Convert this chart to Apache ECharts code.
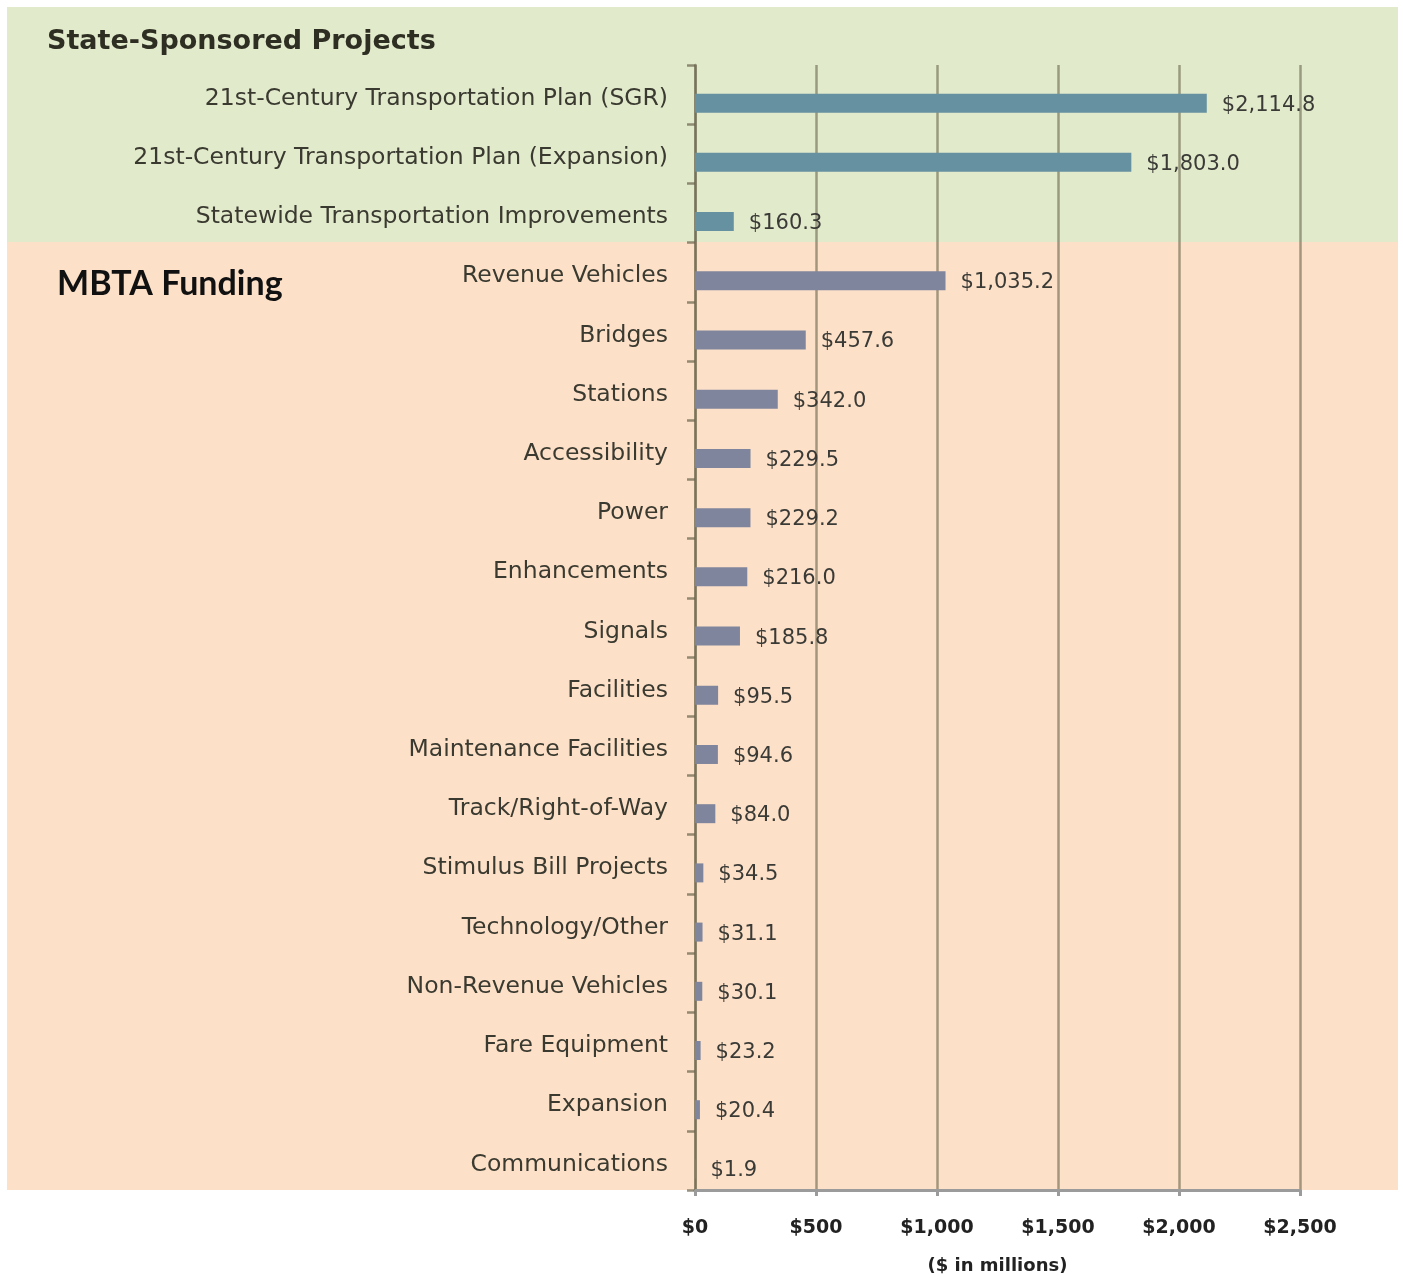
<!DOCTYPE html>
<html>
<head>
<meta charset="utf-8">
<script src="https://cdn.jsdelivr.net/npm/echarts@6/dist/echarts.min.js"></script>
<style>
html,body{margin:0;padding:0;background:#fff;}
#chart{width:1403px;height:1280px;}
</style>
</head>
<body>
<div id="chart"></div>
<script>
const categories = [
  "21st-Century Transportation Plan (SGR)",
  "21st-Century Transportation Plan (Expansion)",
  "Statewide Transportation Improvements",
  "Revenue Vehicles",
  "Bridges",
  "Stations",
  "Accessibility",
  "Power",
  "Enhancements",
  "Signals",
  "Facilities",
  "Maintenance Facilities",
  "Track/Right-of-Way",
  "Stimulus Bill Projects",
  "Technology/Other",
  "Non-Revenue Vehicles",
  "Fare Equipment",
  "Expansion",
  "Communications"
];
const values = [2114.8, 1803.0, 160.3, 1035.2, 457.6, 342.0, 229.5, 229.2, 216.0, 185.8, 95.5, 94.6, 84.0, 34.5, 31.1, 30.1, 23.2, 20.4, 1.9];
const stateCount = 3; // first three categories are State-Sponsored Projects
const xTicks = [0, 500, 1000, 1500, 2000, 2500];

const FONT = '"DejaVu Sans", Verdana, sans-serif';
const chart = echarts.init(document.getElementById('chart'));

function money(v, dec) {
  return '$' + v.toLocaleString('en-US', {minimumFractionDigits: dec, maximumFractionDigits: dec});
}

const option = {
  animation: false,
  backgroundColor: '#ffffff',
  graphic: [
    {type: 'rect', z: -10, shape: {x: 7, y: 7, width: 1391, height: 235}, style: {fill: '#e2eacc'}},
    {type: 'rect', z: -10, shape: {x: 7, y: 242, width: 1391, height: 948}, style: {fill: '#fde0c8'}},
    {type: 'text', left: 47, top: 28, style: {text: 'State-Sponsored Projects', font: 'bold 27px ' + FONT, fill: '#2e2f22'}},
    {type: 'text', left: 57, top: 267, style: {text: 'MBTA Funding', font: 'bold 34px Lato, "Open Sans", sans-serif', fill: '#111111'}}
  ],
  grid: {left: 695, right: 103, top: 65, bottom: 90, containLabel: false, outerBoundsMode: 'none'},
  xAxis: {
    type: 'value',
    min: 0, max: 2500, interval: 500,
    name: '($ in millions)',
    nameLocation: 'middle',
    nameGap: 67,
    nameTextStyle: {fontFamily: FONT, fontWeight: 'bold', fontSize: 18, color: '#222'},
    axisLine: {show: true, lineStyle: {color: '#9b9b9b', width: 3}},
    axisTick: {show: true, length: 6, lineStyle: {color: '#9b9b9b', width: 3}},
    axisLabel: {
      margin: 29, fontFamily: FONT, fontWeight: 'bold', fontSize: 19, color: '#222',
      formatter: v => money(v, 0)
    },
    splitLine: {show: true, lineStyle: {color: 'rgba(105,100,75,0.6)', width: 2.5}}
  },
  yAxis: {
    type: 'category',
    data: categories,
    inverse: true,
    axisLine: {show: true, lineStyle: {color: 'rgba(105,100,75,0.7)', width: 2.5}},
    axisTick: {show: true, length: 8, lineStyle: {color: 'rgba(105,100,75,0.7)', width: 2.5}},
    axisLabel: {margin: 27, fontFamily: FONT, fontSize: 23.5, color: '#3a3a30', verticalAlign: 'top', lineHeight: 8},
    splitLine: {show: false}
  },
  series: [
    {
      // placeholder series so the visible bars sit a little below each band's centre
      type: 'bar', data: categories.map(() => '-'), barWidth: 19, barGap: '-10%', silent: true
    },
    {
      type: 'bar',
      barWidth: 19,
      data: values.map((v, i) => ({
        value: v,
        itemStyle: {color: i < stateCount ? '#6691a0' : '#7f859c'}
      })),
      label: {
        show: true, position: 'right', distance: 15, offset: [0, 2],
        fontFamily: FONT, fontSize: 21, color: '#3a3a36',
        formatter: p => money(p.value, 1)
      }
    }
  ]
};
chart.setOption(option);
</script>
</body>
</html>
